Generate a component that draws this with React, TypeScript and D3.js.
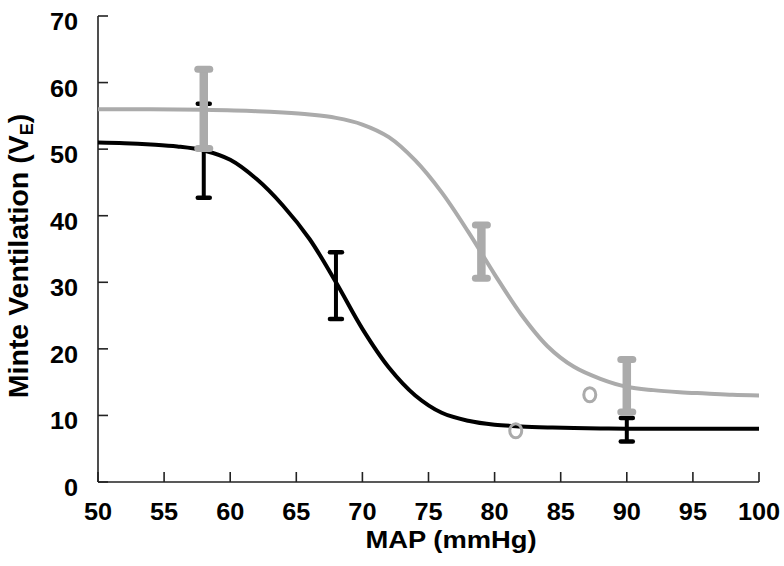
import React from "react";
import * as d3 from "d3";

const xTicks = [50, 55, 60, 65, 70, 75, 80, 85, 90, 95, 100];
const yTicks = [0, 10, 20, 30, 40, 50, 60, 70];

// Fitted curves
const blackCurveX = [50, 52, 54, 56, 58, 60, 62, 64, 66, 68, 70, 72, 74, 76, 78, 80, 82, 84, 86, 88, 90, 95, 100];
const blackCurveY = [51.0, 50.9, 50.7, 50.4, 49.8, 48.4, 45.5, 41.5, 36.5, 30.0, 23.0, 17.2, 13.0, 10.4, 9.2, 8.6, 8.35, 8.2, 8.1, 8.05, 8.0, 8.0, 8.0];

const grayCurveX = [50, 54, 58, 62, 64, 66, 68, 70, 72, 74, 76, 78, 80, 82, 84, 86, 88, 90, 92, 94, 96, 98, 100];
const grayCurveY = [56.0, 56.0, 55.9, 55.7, 55.5, 55.2, 54.7, 53.7, 51.8, 48.3, 43.5, 37.6, 31.2, 25.2, 20.4, 17.3, 15.5, 14.3, 13.8, 13.5, 13.3, 13.1, 13.0];

// Error bars
const blackErrX = [58, 68, 90];
const blackErrLow = [42.7, 24.5, 6.1];
const blackErrHigh = [56.8, 34.5, 9.6];

const grayErrX = [58, 79, 90];
const grayErrLow = [50.1, 30.6, 10.5];
const grayErrHigh = [62.0, 38.6, 18.4];

// Open circles
const circX = [81.6, 87.2];
const circY = [7.7, 13.1];

const W = 784;
const H = 566;
const GRAY = "#ababab";
const FONT = "'Liberation Sans', Arial, sans-serif";

export default function App() {
  const x = d3.scaleLinear().domain([50, 100]).range([98, 759]);
  const y = d3.scaleLinear().domain([0, 70]).range([482, 16]);

  const line = d3
    .line<[number, number]>()
    .x((d) => x(d[0]))
    .y((d) => y(d[1]))
    .curve(d3.curveCatmullRom.alpha(0.5));

  const blackPath = line(blackCurveX.map((v, i) => [v, blackCurveY[i]]) as [number, number][]) || "";
  const grayPath = line(grayCurveX.map((v, i) => [v, grayCurveY[i]]) as [number, number][]) || "";

  return (
    <svg
      width={W}
      height={H}
      style={{ position: "absolute", left: 0, top: 0, background: "#fff" }}
      fontFamily={FONT}
    >
      <rect x={0} y={0} width={W} height={H} fill="#fff" />
      {/* axes */}
      <line x1={x(50)} x2={x(50)} y1={y(70)} y2={y(0)} stroke="#222" strokeWidth={1.6} />
      <line x1={x(50)} x2={x(100)} y1={y(0)} y2={y(0)} stroke="#222" strokeWidth={1.6} />
      {yTicks.map((t) => (
        <g key={"yt" + t}>
          <line x1={x(50)} x2={x(50) + 10} y1={y(t)} y2={y(t)} stroke="#222" strokeWidth={1.6} />
          <text
            transform={`translate(78,${y(t) + 14}) scale(1.1,1)`}
            textAnchor="end"
            fontSize={23}
            fontWeight="bold"
            fill="#000"
          >
            {t}
          </text>
        </g>
      ))}
      {xTicks.map((t) => (
        <g key={"xt" + t}>
          <line x1={x(t)} x2={x(t)} y1={y(0)} y2={y(0) - 10} stroke="#222" strokeWidth={1.6} />
          <text
            transform={`translate(${x(t)},520) scale(1.1,1)`}
            textAnchor="middle"
            fontSize={23}
            fontWeight="bold"
            fill="#000"
          >
            {t}
          </text>
        </g>
      ))}
      {/* axis titles */}
      <text
        transform={`translate(451,548) scale(1.19,1)`}
        textAnchor="middle"
        fontSize={23}
        fontWeight="bold"
        fill="#000"
      >
        MAP (mmHg)
      </text>
      <text
        transform={`translate(28,256) rotate(-90)`}
        textAnchor="middle"
        fontSize={28.5}
        fontWeight="bold"
        fill="#000"
      >
        Minte Ventilation (V
        <tspan fontSize={18} dy={5}>E</tspan>
        <tspan dy={-5}>)</tspan>
      </text>

      {/* black series */}
      <path d={blackPath} fill="none" stroke="#000" strokeWidth={4} />
      {blackErrX.map((v, i) => (
        <g key={"be" + i}>
          <line x1={x(v)} x2={x(v)} y1={y(blackErrLow[i])} y2={y(blackErrHigh[i])} stroke="#000" strokeWidth={4} />
          <line x1={x(v) - 6} x2={x(v) + 6} y1={y(blackErrLow[i])} y2={y(blackErrLow[i])} stroke="#000" strokeWidth={4.5} strokeLinecap="round" />
          <line x1={x(v) - 6} x2={x(v) + 6} y1={y(blackErrHigh[i])} y2={y(blackErrHigh[i])} stroke="#000" strokeWidth={4.5} strokeLinecap="round" />
        </g>
      ))}

      {/* gray series */}
      <path d={grayPath} fill="none" stroke={GRAY} strokeWidth={4} />
      {grayErrX.map((v, i) => (
        <g key={"ge" + i}>
          <line x1={x(v)} x2={x(v)} y1={y(grayErrLow[i])} y2={y(grayErrHigh[i])} stroke={GRAY} strokeWidth={8.5} />
          <line x1={x(v) - 6} x2={x(v) + 6} y1={y(grayErrLow[i])} y2={y(grayErrLow[i])} stroke={GRAY} strokeWidth={7} strokeLinecap="round" />
          <line x1={x(v) - 6} x2={x(v) + 6} y1={y(grayErrHigh[i])} y2={y(grayErrHigh[i])} stroke={GRAY} strokeWidth={7} strokeLinecap="round" />
        </g>
      ))}
      {circX.map((v, i) => (
        <ellipse key={"c" + i} cx={x(v)} cy={y(circY[i])} rx={6} ry={7} fill="none" stroke={GRAY} strokeWidth={3} />
      ))}
    </svg>
  );
}
